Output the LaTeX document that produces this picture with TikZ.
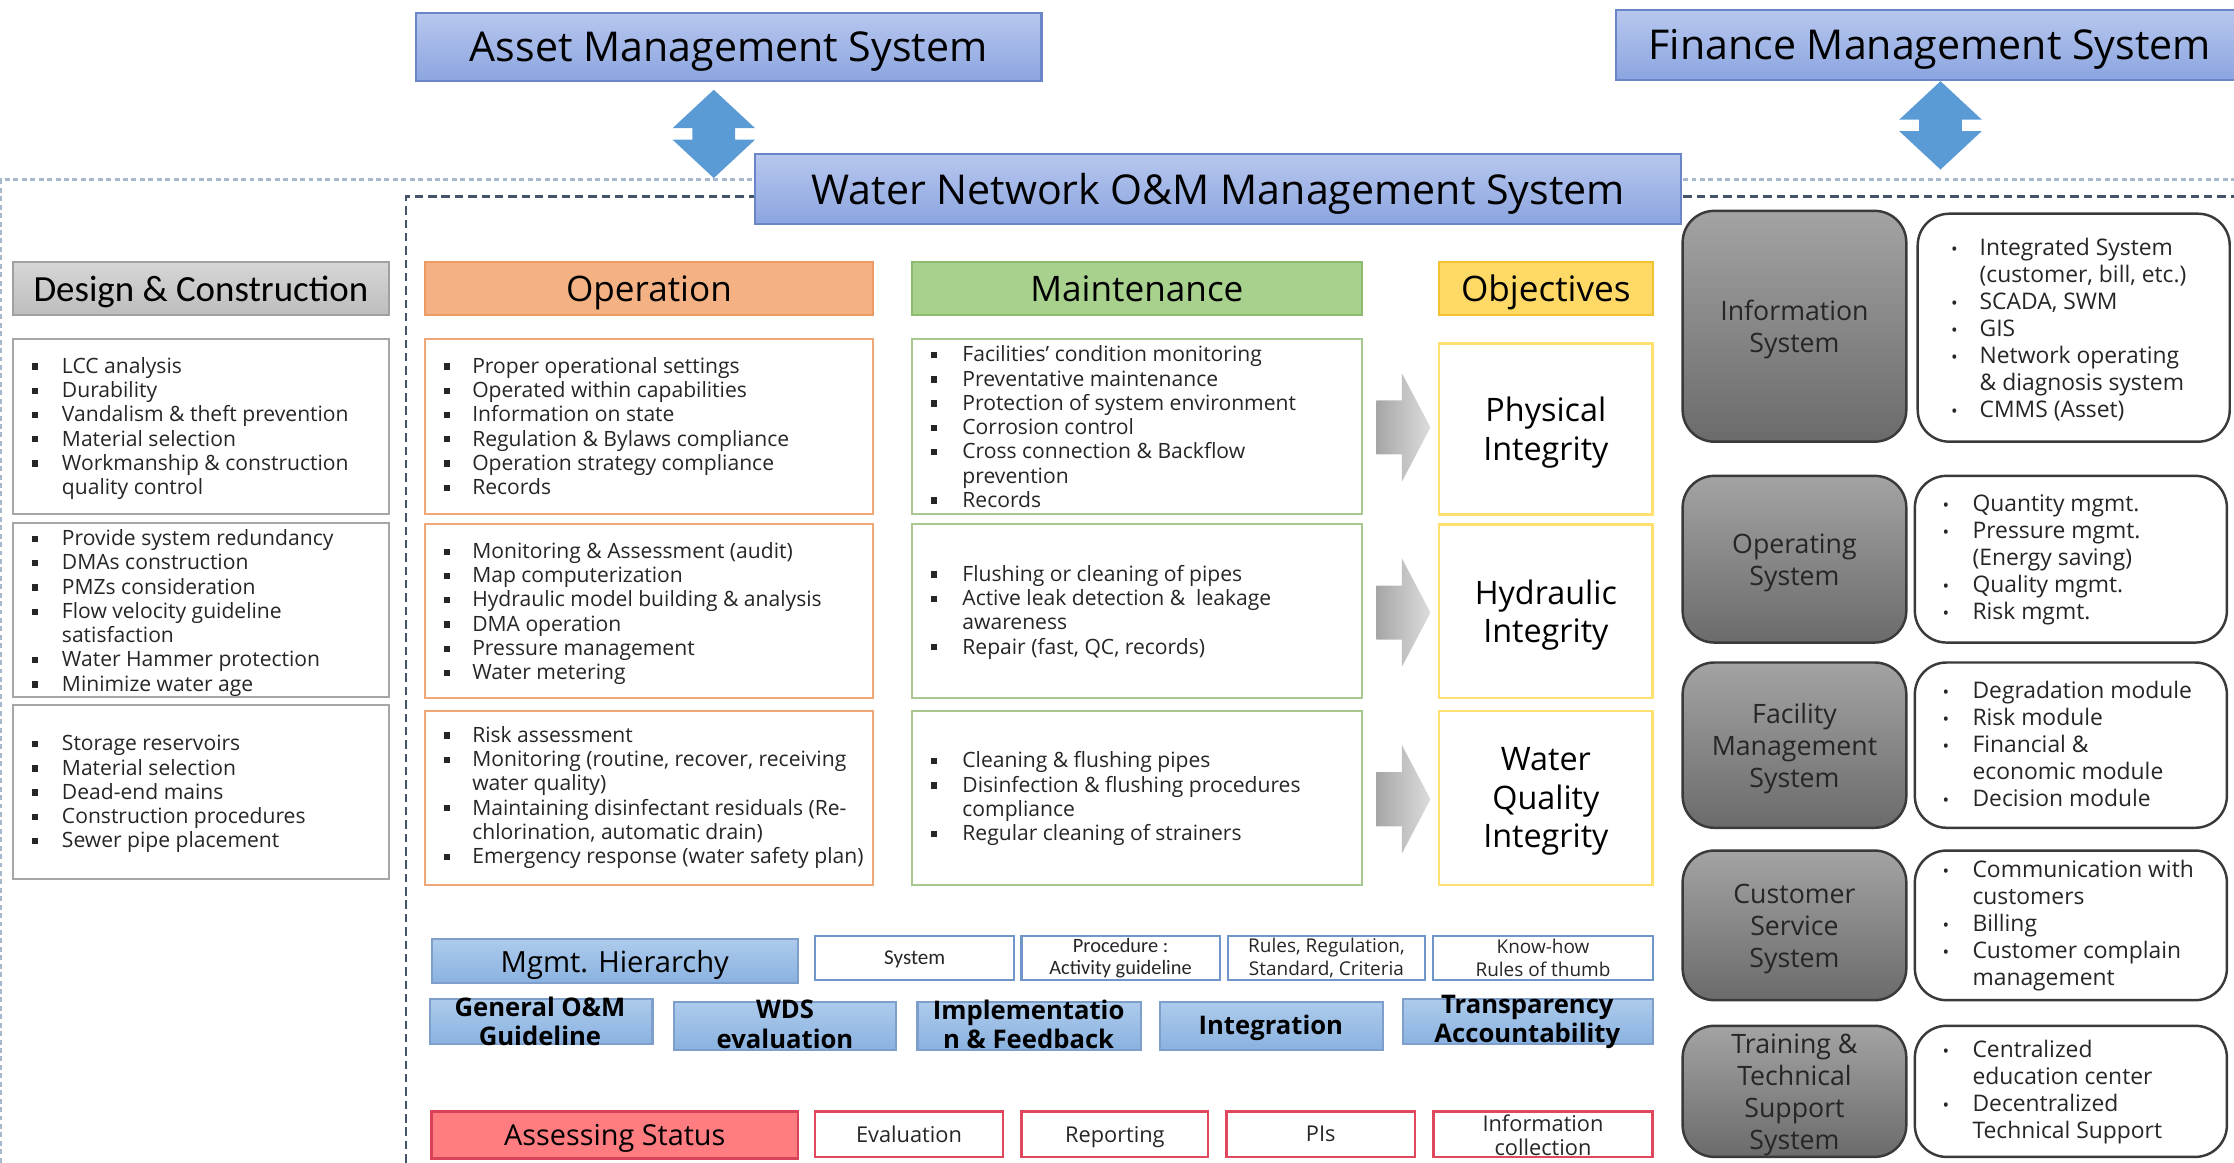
\documentclass[tikz,border=0pt]{standalone}
\usepackage{fontspec}
\setmainfont{Open Sans}
\newfontfamily\carl{Carlito}
\usetikzlibrary{calc}
\newlength\uu \setlength\uu{0.014247cm}
\newlength\bind
\definecolor{pwTop}{HTML}{B7C7EE}
\definecolor{pwBot}{HTML}{8CA5E0}
\definecolor{pwBd}{HTML}{6B86C8}
\definecolor{lbTop}{HTML}{ADCBEC}
\definecolor{lbBot}{HTML}{8AB2E0}
\definecolor{lbBd}{HTML}{7E9FCB}
\definecolor{arrBlue}{HTML}{5B9BD5}
\definecolor{dcTop}{HTML}{D6D6D6}
\definecolor{dcBot}{HTML}{BDBDBD}
\definecolor{dcBd}{HTML}{A0A0A0}
\definecolor{opF}{HTML}{F4B183}
\definecolor{opBd}{HTML}{EE9A63}
\definecolor{mtF}{HTML}{A9D18E}
\definecolor{mtBd}{HTML}{8CBB6E}
\definecolor{obF}{HTML}{FFD966}
\definecolor{obBd}{HTML}{F2C232}
\definecolor{opLn}{HTML}{F0A878}
\definecolor{mtLn}{HTML}{A8C890}
\definecolor{obLn}{HTML}{FFE070}
\definecolor{dcLn}{HTML}{A6A6A6}
\definecolor{gyTop}{HTML}{A3A3A3}
\definecolor{gyBot}{HTML}{6B6B6B}
\definecolor{gyBd}{HTML}{3A3A3A}
\definecolor{asF}{HTML}{FF7C80}
\definecolor{asBd}{HTML}{D9435A}
\definecolor{rdLn}{HTML}{E0485E}
\definecolor{blLn}{HTML}{6F95C9}
\definecolor{dashL}{HTML}{A5B8CC}
\definecolor{dashD}{HTML}{44546A}
\definecolor{txt}{HTML}{262626}
\definecolor{garL}{HTML}{A6A6A6}
\definecolor{garR}{HTML}{DCDCDC}
\newcommand\fs[2]{\fontsize{#1}{#2}\selectfont}
\newcommand\sqb{\rule[0.17em]{0.3em}{0.3em}}
\newcommand\rdb{{\fontsize{5}{5}\selectfont\textbullet}}
\newcommand\bitem[1]{\par\noindent\hangindent=\bind\hangafter=1\makebox[\bind][l]{\sqb}#1}
\newcommand\ritem[1]{\par\noindent\hangindent=\bind\hangafter=1\makebox[\bind][l]{\rdb}#1}
% style, name, x1, y1, x2, y2, text
\newcommand\bbox[7]{\node[#1, inner sep=0pt, minimum width={(#5-#3)*\uu}, minimum height={(#6-#4)*\uu}] (#2) at ({(#3+#5)/2},{(#4+#6)/2}) {#7};}
% name, x, ybase, size, skip, indent, items
\newcommand\blist[7]{\node[anchor=base west, inner sep=0pt, text=txt] (#1) at (#2,#3) {\begin{minipage}[t]{150pt}\fs{#4}{#5}\setlength\bind{#6\uu}\raggedright\hyphenpenalty=10000 #7\end{minipage}};}
\begin{document}
\begin{tikzpicture}[x=0.014247cm, y=-0.014247cm,
  title/.style={draw=pwBd, line width=0.6pt, top color=pwTop, bottom color=pwBot, text=black, text depth=0pt, font=\fs{11.7}{13}},
  hdr/.style={line width=0.6pt, font=\fs{10}{12}, text=black, text depth=0pt},
  lbox/.style={draw, fill=white, line width=0.6pt},
  gbox/.style={draw=gyBd, line width=0.7pt, rounded corners=9pt, top color=gyTop, bottom color=gyBot, text=txt, align=center, text depth=0pt, font=\fs{7.6}{9.1}},
  wbox/.style={draw=gyBd, line width=0.7pt, rounded corners=9pt, fill=white},
  obj/.style={draw=obLn, line width=0.7pt, fill=white, align=center, text depth=0pt, font=\fs{9.2}{10.95}, text=black},
  bluebox/.style={draw=lbBd, line width=0.6pt, top color=lbTop, bottom color=lbBot},
  bold/.style={align=center, font=\bfseries\fs{7.3}{8.3}, text=black},
  bsmall/.style={draw=blLn, line width=0.6pt, fill=white, align=center, text=txt},
  rsmall/.style={draw=rdLn, line width=0.7pt, fill=white, align=center, text=txt, text depth=0pt, font=\fs{6.2}{6.9}},
  darr/.style={fill=arrBlue},
  garr/.style={left color=garL, right color=garR}
]
\useasboundingbox (0,0) rectangle (1568,816);
% dashed frames
\coordinate (oTL) at (1,126);
\coordinate (iTL) at (285,138);
\draw[dashL, line width=0.6pt, dash pattern=on 1.4pt off 1pt] (1,816) -- (oTL) -- (1568,126);
\draw[dashD, line width=0.7pt, dash pattern=on 2.4pt off 1.4pt] (285,816) -- (iTL) -- (1568,138);
% top titles
\bbox{title}{ams}{292}{9}{731}{57}{Asset Management System}
\bbox{title}{fms}{1134}{7}{1575}{56}{Finance Management System}
\bbox{title}{wnm}{530}{108}{1180}{157}{Water Network O\&M Management System}
% double arrows
\coordinate (da1) at (501,63);
\fill[darr] (da1) -- ++(29,27) -- ++(-14,0) -- ++(0,8) -- ++(14,0) -- ++(-29,27) -- ++(-29,-27) -- ++(14,0) -- ++(0,-8) -- ++(-14,0) -- cycle;
\coordinate (da2) at (1362,57);
\fill[darr] (da2) -- ++(29,27) -- ++(-14,0) -- ++(0,8) -- ++(14,0) -- ++(-29,27) -- ++(-29,-27) -- ++(14,0) -- ++(0,-8) -- ++(-14,0) -- cycle;
% headers
\bbox{hdr, draw=dcBd, top color=dcTop, bottom color=dcBot, font=\carl\fs{10.5}{12}}{hdc}{9}{184}{273}{221}{Design \& Construction}
\bbox{hdr, draw=opBd, fill=opF}{hop}{298}{184}{613}{221}{Operation}
\bbox{hdr, draw=mtBd, fill=mtF}{hmt}{640}{184}{956}{221}{Maintenance}
\bbox{hdr, draw=obBd, fill=obF}{hob}{1010}{184}{1160}{221}{Objectives}
% design boxes
\bbox{lbox, draw=dcLn}{dc1}{9}{238}{273}{361}{}
\bbox{lbox, draw=dcLn}{dc2}{9}{367}{273}{489}{}
\bbox{lbox, draw=dcLn}{dc3}{9}{495}{273}{617}{}
\blist{dcl1}{22}{262}{6}{6.9}{21}{\bitem{LCC analysis}\bitem{Durability}\bitem{Vandalism \& theft prevention}\bitem{Material selection}\bitem{Workmanship \& construction\newline quality control}}
\blist{dcl2}{22}{383}{6}{6.9}{21}{\bitem{Provide system redundancy}\bitem{DMAs construction}\bitem{PMZs consideration}\bitem{Flow velocity guideline\newline satisfaction}\bitem{Water Hammer protection}\bitem{Minimize water age}}
\blist{dcl3}{22}{527}{6}{6.9}{21}{\bitem{Storage reservoirs}\bitem{Material selection}\bitem{Dead-end mains}\bitem{Construction procedures}\bitem{Sewer pipe placement}}
% operation boxes
\bbox{lbox, draw=opLn}{op1}{298}{238}{613}{361}{}
\bbox{lbox, draw=opLn}{op2}{298}{368}{613}{490}{}
\bbox{lbox, draw=opLn}{op3}{298}{499}{613}{621}{}
\blist{opl1}{311}{262}{6}{6.9}{20}{\bitem{Proper operational settings}\bitem{Operated within capabilities}\bitem{Information on state}\bitem{Regulation \& Bylaws compliance}\bitem{Operation strategy compliance}\bitem{Records}}
\blist{opl2}{311}{392}{6}{6.9}{20}{\bitem{Monitoring \& Assessment (audit)}\bitem{Map computerization}\bitem{Hydraulic model building \& analysis}\bitem{DMA operation}\bitem{Pressure management}\bitem{Water metering}}
\blist{opl3}{311}{521}{6}{6.9}{20}{\bitem{Risk assessment}\bitem{Monitoring (routine, recover, receiving\newline water quality)}\bitem{Maintaining disinfectant residuals (Re-\newline chlorination, automatic drain)}\bitem{Emergency response (water safety plan)}}
% maintenance boxes
\bbox{lbox, draw=mtLn}{mt1}{640}{238}{956}{361}{}
\bbox{lbox, draw=mtLn}{mt2}{640}{368}{956}{490}{}
\bbox{lbox, draw=mtLn}{mt3}{640}{499}{956}{621}{}
\blist{mtl1}{653}{254}{6}{6.9}{22}{\bitem{Facilities’ condition monitoring}\bitem{Preventative maintenance}\bitem{Protection of system environment}\bitem{Corrosion control}\bitem{Cross connection \& Backflow\newline prevention}\bitem{Records}}
\blist{mtl2}{653}{408}{6}{6.9}{22}{\bitem{Flushing or cleaning of pipes}\bitem{Active leak detection \& \ leakage\newline awareness}\bitem{Repair (fast, QC, records)}}
\blist{mtl3}{653}{539}{6}{6.9}{22}{\bitem{Cleaning \& flushing pipes}\bitem{Disinfection \& flushing procedures\newline compliance}\bitem{Regular cleaning of strainers}}
% gray arrows
\coordinate (ga1) at (966,300);
\coordinate (ga2) at (966,430);
\coordinate (ga3) at (966,561);
\foreach \g in {ga1,ga2,ga3}{
  \shade[garr] (\g) ++(0,-19) -- ++(18,0) -- ++(0,-19) -- ++(20,38) -- ++(-20,38) -- ++(0,-19) -- ++(-18,0) -- cycle;
}
% objectives
\bbox{obj}{ob1}{1010}{241}{1160}{361}{Physical\\Integrity}
\bbox{obj}{ob2}{1010}{368}{1160}{490}{Hydraulic\\Integrity}
\bbox{obj}{ob3}{1010}{499}{1160}{621}{Water\\Quality\\Integrity}
% management hierarchy row
\bbox{bluebox, font=\fs{8.3}{10}, text=black, text depth=0pt}{mh}{303}{659}{560}{690}{Mgmt. Hierarchy}
\bbox{bsmall, font=\carl\fs{6}{6.5}, text depth=0pt}{s1}{572}{657}{712}{688}{System}
\bbox{bsmall, font=\carl\fs{5.8}{6.5}}{s2}{717}{657}{856}{688}{Procedure :\\Activity guideline}
\bbox{bsmall, font=\fs{5.4}{6.5}}{s3}{862}{657}{1000}{688}{Rules, Regulation,\\Standard, Criteria}
\bbox{bsmall, font=\fs{5.4}{6.5}}{s4}{1006}{657}{1160}{688}{Know-how\\Rules of thumb}
% bold blue row
\bbox{bluebox}{g1}{302}{701}{458}{733}{}
\bbox{bluebox}{g2}{473}{703}{629}{737}{}
\bbox{bluebox}{g3}{644}{703}{801}{737}{}
\bbox{bluebox}{g4}{814}{703}{971}{737}{}
\bbox{bluebox}{g5}{985}{701}{1160}{733}{}
\node[bold] (g1t) at (379,717) {General O\&M\\Guideline};
\node[bold] (g2t) at (551,719) {WDS\\evaluation};
\node[bold] (g3t) at (722,719) {Implementatio\\n \& Feedback};
\node[bold, text depth=0pt] (g4t) at (892,719) {Integration};
\node[bold] (g5t) at (1072,717) {Transparency\\Accountability};
% assessing row
\bbox{draw=asBd, line width=0.7pt, fill=asF, font=\fs{8.2}{10}, text=black, text depth=0pt}{as}{303}{780}{560}{813}{Assessing Status}
\bbox{rsmall}{r1}{572}{780}{704}{812}{Evaluation}
\bbox{rsmall}{r2}{717}{780}{848}{812}{Reporting}
\bbox{rsmall}{r3}{861}{780}{993}{812}{PIs}
\bbox{rsmall}{r4}{1006}{780}{1160}{812}{}
\node[align=center, text=txt, font=\fs{6.2}{6.9}] (r4t) at (1083,797) {Information\\collection};
% right side systems
\bbox{gbox}{is}{1181}{148}{1338}{310}{Information\\System}
\bbox{gbox}{os}{1181}{334}{1338}{451}{Operating\\System}
\bbox{gbox}{fm}{1181}{465}{1338}{581}{Facility\\Management\\System}
\bbox{gbox}{cs}{1181}{597}{1338}{702}{Customer\\Service\\System}
\bbox{gbox}{ts}{1181}{720}{1338}{812}{Training \&\\Technical\\Support\\System}
\bbox{wbox}{isw}{1346}{150}{1565}{310}{}
\bbox{wbox}{osw}{1344}{334}{1563}{451}{}
\bbox{wbox}{fmw}{1344}{465}{1563}{581}{}
\bbox{wbox}{csw}{1344}{597}{1563}{702}{}
\bbox{wbox}{tsw}{1344}{720}{1563}{812}{}
\blist{isl}{1369}{179}{6.5}{7.7}{20}{\ritem{Integrated System\newline (customer, bill, etc.)}\ritem{SCADA, SWM}\ritem{GIS}\ritem{Network operating\newline \& diagnosis system}\ritem{CMMS (Asset)}}
\blist{osl}{1363}{359}{6.5}{7.7}{21}{\ritem{Quantity mgmt.}\ritem{Pressure mgmt.\newline (Energy saving)}\ritem{Quality mgmt.}\ritem{Risk mgmt.}}
\blist{fml}{1363}{490}{6.5}{7.7}{21}{\ritem{Degradation module}\ritem{Risk module}\ritem{Financial \&\newline economic module}\ritem{Decision module}}
\blist{csl}{1363}{616}{6.5}{7.7}{21}{\ritem{Communication with\newline customers}\ritem{Billing}\ritem{Customer complain\newline management}}
\blist{tsl}{1363}{742}{6.5}{7.7}{21}{\ritem{Centralized\newline education center}\ritem{Decentralized\newline Technical Support}}
\end{tikzpicture}
\end{document}
